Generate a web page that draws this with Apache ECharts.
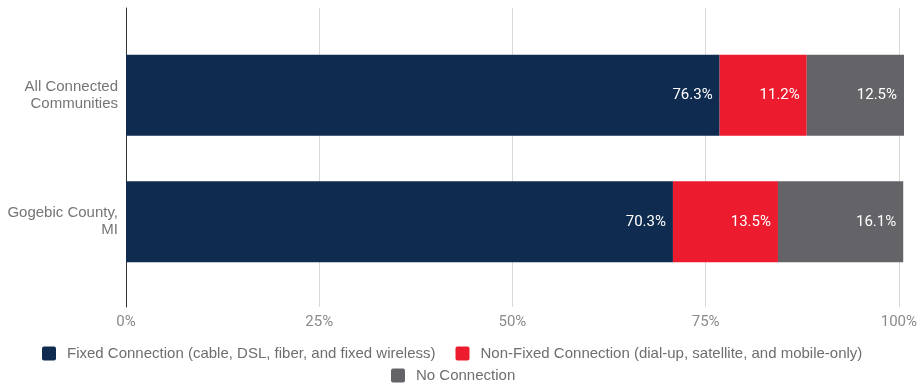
<!DOCTYPE html>
<html>
<head>
<meta charset="utf-8">
<script src="https://cdn.jsdelivr.net/npm/echarts@6/dist/echarts.min.js"></script>
<style>
  html, body { margin: 0; padding: 0; background: #fff; }
  #chart { width: 920px; height: 385px; }
</style>
</head>
<body>
<div id="chart"></div>
<script>
// Share of households by connection type
const categories = ['All Connected Communities', 'Gogebic County,\nMI'];
const seriesNames = [
  'Fixed Connection (cable, DSL, fiber, and fixed wireless)',
  'Non-Fixed Connection (dial-up, satellite, and mobile-only)',
  'No Connection'
];
const fixedValues = [76.3, 70.3];
const nonFixedValues = [11.2, 13.5];
const noConnValues = [12.5, 16.1];
const xTicks = [0, 25, 50, 75, 100];
const colors = ['#0f2b50', '#ed1b2e', '#646367'];

const valuesBySeries = [fixedValues, nonFixedValues, noConnValues];

const chart = echarts.init(document.getElementById('chart'), null, { renderer: 'canvas' });

const labelFont = { fontFamily: 'Roboto', fontSize: 15 };
const legendBase = {
  itemWidth: 14, itemHeight: 14, itemGap: 20,
  icon: 'path://M2,0 L12,0 Q14,0 14,2 L14,12 Q14,14 12,14 L2,14 Q0,14 0,12 L0,2 Q0,0 2,0 Z',
  textStyle: { fontFamily: 'Liberation Sans', fontSize: 15, color: '#6e6e6e', padding: [0, 0, 0, 6] }
};

chart.setOption({
  animation: false,
  color: colors,
  grid: [
    // full-height frame carrying the percentage axis and its gridlines
    { left: 126, right: 16, top: 8, bottom: 78 },
    // inner band area holding the bars and category labels
    { left: 126, right: 16, top: 32, bottom: 100 }
  ],
  xAxis: [
    {
      gridIndex: 0, type: 'value', min: 0, max: 100, interval: 25,
      axisLine: { show: false }, axisTick: { show: false },
      splitLine: { show: true, lineStyle: { color: '#d9d9d9', width: 1 } },
      axisLabel: {
        ...labelFont, color: '#8a8a8a', margin: 8,
        formatter: v => xTicks.includes(v) ? v + '%' : ''
      }
    },
    {
      gridIndex: 1, type: 'value', min: 0, max: 100, show: false
    }
  ],
  yAxis: [
    {
      gridIndex: 0, type: 'value', min: 0, max: 1,
      axisLine: { show: true, lineStyle: { color: '#333', width: 1 } },
      axisTick: { show: false }, axisLabel: { show: false }, splitLine: { show: false }
    },
    {
      gridIndex: 1, type: 'category', data: categories, inverse: true,
      axisLine: { show: false }, axisTick: { show: false },
      axisLabel: {
        fontFamily: 'Liberation Sans', fontSize: 15, color: '#757575',
        margin: 8, lineHeight: 17, align: 'right',
        formatter: v => v === 'All Connected Communities' ? 'All Connected\nCommunities' : v
      }
    }
  ],
  legend: [
    { ...legendBase, left: 37, top: 341, data: seriesNames.slice(0, 2) },
    { ...legendBase, left: 386, top: 363, data: seriesNames.slice(2) }
  ],
  series: seriesNames.map((name, i) => ({
    name,
    type: 'bar',
    stack: 'total',
    xAxisIndex: 1,
    yAxisIndex: 1,
    barWidth: 81,
    data: valuesBySeries[i],
    itemStyle: { color: colors[i] },
    label: {
      show: true, position: 'insideRight', distance: 7,
      ...labelFont, color: '#ffffff',
      formatter: p => p.value.toFixed(1) + '%'
    }
  }))
});
</script>
</body>
</html>
